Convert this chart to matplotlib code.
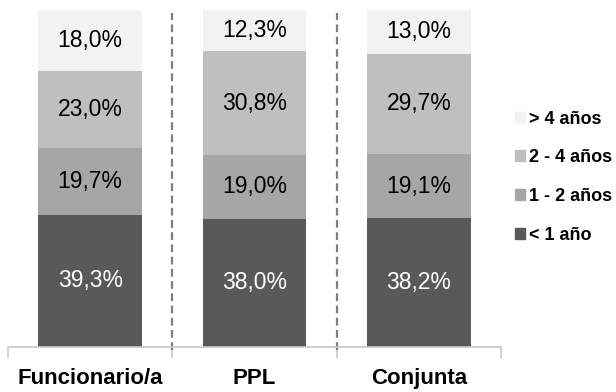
import matplotlib.pyplot as plt
from matplotlib.patches import Patch

plt.rcParams['font.family'] = ['Liberation Sans', 'DejaVu Sans']

groups = ['Funcionario/a', 'PPL', 'Conjunta']
series = ['< 1 año', '1 - 2 años', '2 - 4 años', '> 4 años']
menos_1 = [39.3, 38.0, 38.2]
de_1_2 = [19.7, 19.0, 19.1]
de_2_4 = [23.0, 30.8, 29.7]
mas_4 = [18.0, 12.3, 13.0]

values = [menos_1, de_1_2, de_2_4, mas_4]
colors = ['#595959', '#a6a6a6', '#bfbfbf', '#f2f2f2']
text_colors = ['white', 'black', 'black', 'black']

fig = plt.figure(figsize=(6.16, 3.92), dpi=100)
ax = fig.add_axes([8 / 616, 1 - 347 / 392, 493 / 616, 337 / 392])

x = range(len(groups))
bottom = [0, 0, 0]
for vals, col, tcol in zip(values, colors, text_colors):
    ax.bar(x, vals, bottom=bottom, width=0.63, color=col)
    for i, v in enumerate(vals):
        ax.text(i, bottom[i] + v / 2, f'{v:.1f}%'.replace('.', ','),
                ha='center', va='center', fontsize=16.5, color=tcol)
    bottom = [b + v for b, v in zip(bottom, vals)]

for xd in [0.5, 1.5]:
    ax.plot([xd, xd], [-1, 99], ls=(0, (3.5, 2)), color='#7f7f7f', lw=1.6,
            clip_on=False)

ax.set_xlim(-0.5, 2.5)
ax.set_ylim(0, 100)
ax.set_yticks([])
for s in ['top', 'right', 'left']:
    ax.spines[s].set_visible(False)
ax.spines['bottom'].set_color('#c8c8c8')
ax.spines['bottom'].set_linewidth(1.2)
ax.set_xticks(list(x))
ax.set_xticklabels(groups, fontsize=16, fontweight='bold')
ax.tick_params(axis='x', which='major', length=0, pad=15)
ax.set_xticks([-0.5, 0.5, 1.5, 2.5], minor=True)
ax.tick_params(axis='x', which='minor', length=8, color='#c8c8c8', width=1.2)

handles = [Patch(color=c) for c in colors][::-1]
fig.legend(handles, series[::-1], loc='center left',
           bbox_to_anchor=(506 / 616, 1 - 177 / 392), frameon=False,
           handlelength=0.55, handleheight=0.55, handletextpad=0.25,
           labelspacing=1.2, borderpad=0,
           prop={'size': 13, 'weight': 'bold'})

fig.savefig('out.png', dpi=100)
